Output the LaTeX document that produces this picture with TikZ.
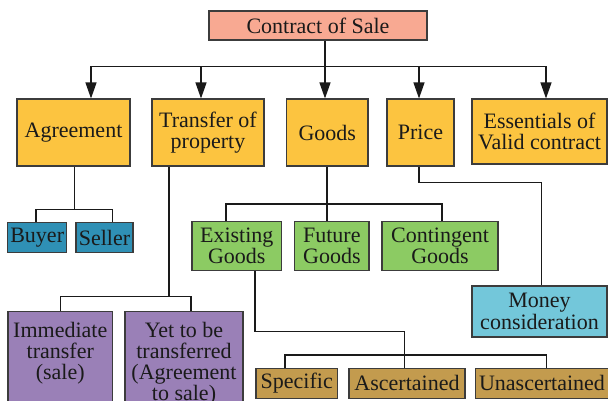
\documentclass[tikz,border=0pt]{standalone}
\usepackage{fontspec}
\setmainfont{Liberation Serif}
\newfontfamily\boxserif{Liberation Serif}
\usetikzlibrary{arrows.meta,calc}
\definecolor{csfill}{HTML}{F8A992}
\definecolor{yfill}{HTML}{FCC440}
\definecolor{tfill}{HTML}{2F90B5}
\definecolor{gfill}{HTML}{8CCB63}
\definecolor{pfill}{HTML}{9A80B7}
\definecolor{bfill}{HTML}{73C7DA}
\definecolor{ofill}{HTML}{C39B4E}
\definecolor{bordercol}{HTML}{3C3C3C}
\definecolor{linecol}{HTML}{1A1A1A}
\tikzset{
  box/.style={draw=bordercol, line width=1.1pt, inner sep=0pt, align=center,
    font=\boxserif\fontsize{22}{21.5}\selectfont, text=linecol},
  txt/.style={inner sep=0pt, align=center, font=\boxserif\fontsize{22}{21}\selectfont, text=linecol},
  conn/.style={draw=linecol, line width=1.2pt},
  arr/.style={conn, -{Triangle[length=16pt,width=11pt]}}
}
\begin{document}
\begin{tikzpicture}[x=1pt,y=-1pt]
\useasboundingbox (0,0) rectangle (608,401);
\fill[white] (0,0) rectangle (608,401);
% level 0
\node[box, fill=csfill, minimum width=218, minimum height=29] (cs) at (318,25.5) {Contract of Sale};
% level 1
\node[box, fill=yfill, minimum width=113, minimum height=67] (ag) at (73.5,132.5) {Agreement};
\node[box, fill=yfill, minimum width=112, minimum height=67] (tp) at (208,132.5) {Transfer of\\property};
\node[box, fill=yfill, minimum width=81.5, minimum height=67] (gd) at (327.25,132.5) {Goods};
\node[box, fill=yfill, minimum width=67, minimum height=67] (pr) at (420.5,132.5) {Price};
\node[box, fill=yfill, minimum width=135, minimum height=65] (es) at (539.5,131.5) {Essentials of\\Valid contract};
% level 2
\node[box, fill=tfill, minimum width=59, minimum height=29.6] (by) at (37.2,237.5) {Buyer};
\node[box, fill=tfill, minimum width=57, minimum height=29.6] (sl) at (104.5,237.5) {Seller};
\node[box, fill=gfill, minimum width=89.5, minimum height=48.6] (ex) at (236.75,246) {Existing\\Goods};
\node[box, fill=gfill, minimum width=74.3, minimum height=48.6] (fu) at (331.85,246) {Future\\Goods};
\node[box, fill=gfill, minimum width=116, minimum height=48.6] (co) at (440,246) {Contingent\\Goods};
\node[box, fill=bfill, minimum width=135, minimum height=51] (mo) at (539.5,311.5) {Money\\consideration};
% level 3
\node[box, fill=pfill, minimum width=104.5, minimum height=110, anchor=north] (im) at (60.25,310.7) {};
\node[txt, anchor=north] (imt) at ($(im.north)+(0,11.2)$) {Immediate\\transfer\\(sale)};
\node[box, fill=pfill, minimum width=118, minimum height=110, anchor=north] (yt) at (184,310.7) {};
\node[txt, anchor=north] (ytt) at ($(yt.north)+(0,11.2)$) {Yet to be\\transferred\\(Agreement\\to sale)};
\node[box, fill=ofill, minimum width=81.5, minimum height=30] (sp) at (296.75,383.3) {Specific};
\node[box, fill=ofill, minimum width=116, minimum height=30] (as) at (407,383.3) {Ascertained};
\node[box, fill=ofill, minimum width=133, minimum height=30] (un) at (542,383.3) {Unascertained};
% connectors from Contract of Sale
\coordinate (top) at (325,66.7);
\draw[conn] (cs.south -| top) -- (top);
\draw[arr] (top) -| ($(ag.north)+(17.5,0)$);
\draw[arr] (top) -| ($(tp.north)+(-7,0)$);
\draw[arr] (top) -- (top |- gd.north);
\draw[arr] (top) -| ($(pr.north)+(-1.5,0)$);
\draw[arr] (top) -| ($(es.north)+(6.5,0)$);
% Agreement
\coordinate (agb) at (74.4,209.3);
\draw[conn] (ag.south -| agb) -- (agb);
\draw[conn] ($(by.north)+(-1.2,0)$) |- (agb) -| ($(sl.north)+(8,0)$);
% Transfer of property
\coordinate (tpb) at (169,296.7);
\draw[conn] (tp.south -| tpb) -- (tpb);
\draw[conn] (im.north) |- (tpb) -| ($(yt.north)+(7,0)$);
% Goods
\coordinate (gdb) at (327,204);
\draw[conn] (gd.south -| gdb) -- (fu.north -| gdb);
\draw[conn] ($(ex.north)+(-10.75,0)$) |- (gdb) -| ($(co.north)+(2,0)$);
% Price
\coordinate (prc) at (541.7,182.3);
\draw[conn] ($(pr.south)+(-1.5,0)$) |- (prc) -- (prc |- mo.north);
% Existing goods
\coordinate (exc) at (404.4,331.7);
\coordinate (spb) at (404.4,355);
\draw[conn] ($(ex.south)+(18.25,0)$) |- (exc) -- (exc |- as.north);
\draw[conn] ($(sp.north)+(-11.75,0)$) |- (spb) -| ($(un.north)+(4.7,0)$);
\end{tikzpicture}
\end{document}
